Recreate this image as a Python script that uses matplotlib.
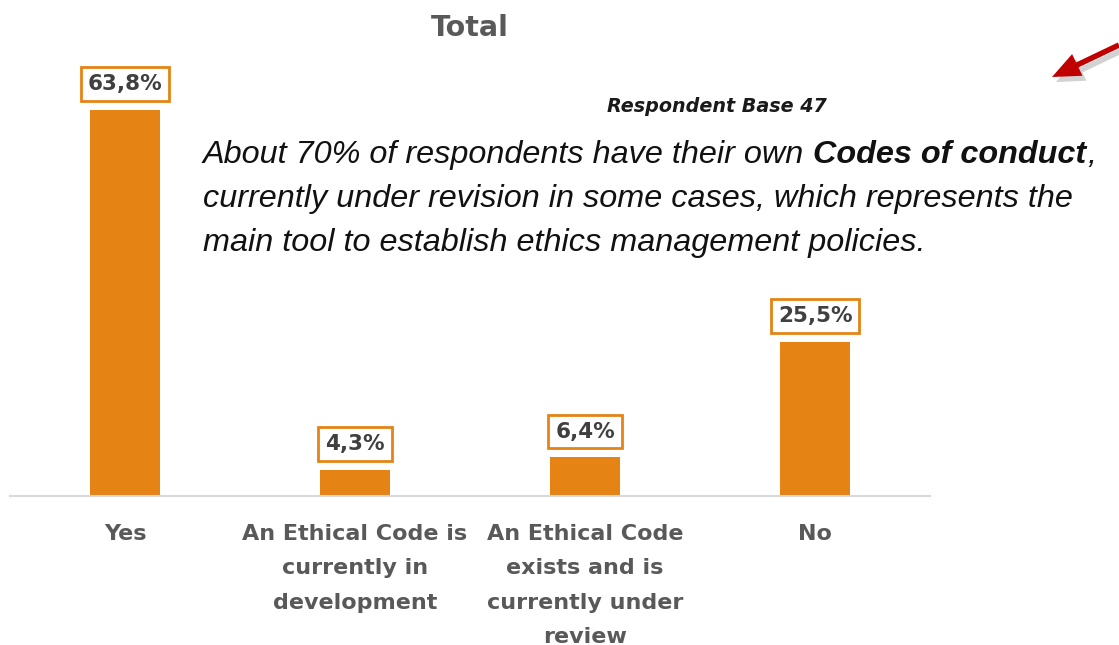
"""Bar chart: share of respondents with an ethical code of conduct."""

import matplotlib

matplotlib.use("Agg")

import matplotlib.pyplot as plt
from matplotlib.patches import FancyArrow
from matplotlib.transforms import IdentityTransform

categories = [
    "Yes",
    "An Ethical Code is\ncurrently in\ndevelopment",
    "An Ethical Code\nexists and is\ncurrently under\nreview",
    "No",
]
shares = [63.8, 4.3, 6.4, 25.5]

BAR_COLOR = "#e58315"
LABEL_GREY = "#595959"
VALUE_GREY = "#404040"
NOTE_COLOR = "#111111"
LABEL_FONT = "DejaVu Sans"
NOTE_FONT = "Liberation Sans"


def fmt_pct(value: float) -> str:
    return f"{value:.1f}%".replace(".", ",")


fig = plt.figure(figsize=(11.19, 6.45), dpi=100)
ax = fig.add_axes([10 / 1119, 1 - 496 / 645, 920 / 1119, 423.5 / 645])

x = range(len(categories))
ax.bar(x, shares, width=0.305, color=BAR_COLOR, zorder=2)
ax.set_xlim(-0.5, 3.5)
ax.set_ylim(0, 70)

for xi, value in zip(x, shares):
    ax.annotate(
        fmt_pct(value),
        xy=(xi, value),
        xytext=(0, 18.5),
        textcoords="offset points",
        ha="center",
        va="center",
        fontsize=15.5,
        fontweight="bold",
        color=VALUE_GREY,
        family=LABEL_FONT,
        bbox=dict(boxstyle="square,pad=0.32", fc="white", ec=BAR_COLOR, lw=2),
    )

for spine in ("top", "right", "left"):
    ax.spines[spine].set_visible(False)
ax.spines["bottom"].set_color("#d9d9d9")
ax.spines["bottom"].set_linewidth(1.5)
ax.set_yticks([])
ax.set_xticks(list(x))
ax.set_xticklabels(
    categories,
    fontsize=16,
    fontweight="bold",
    color=LABEL_GREY,
    family=LABEL_FONT,
    linespacing=1.9,
    va="top",
)
ax.tick_params(axis="x", length=0, pad=20)

fig.text(470 / 1119, 1 - 28 / 645, "Total", ha="center", va="center",
         fontsize=20.5, fontweight="bold", color=LABEL_GREY, family=LABEL_FONT)
fig.text(607 / 1119, 1 - 106 / 645, "Respondent Base 47", ha="left", va="center",
         fontsize=13.8, fontweight="bold", style="italic", color="#1a1a1a",
         family=LABEL_FONT)

# commentary block; the bold phrase is chained to the end of the first run
note_style = dict(fontsize=23.3, style="italic", color=NOTE_COLOR, family=NOTE_FONT)
first = fig.text(203 / 1119, 1 - 155 / 645, "About 70% of respondents have their own ",
                 ha="left", va="center", **note_style)
fig.canvas.draw()
renderer = fig.canvas.get_renderer()
bb = first.get_window_extent(renderer)
bold = fig.text(bb.x1, bb.y0, "Codes of conduct", ha="left", va="bottom",
                fontweight="bold", transform=IdentityTransform(), **note_style)
bb2 = bold.get_window_extent(renderer)
fig.text(bb2.x1 + 1, bb.y0, ",", ha="left", va="bottom",
         transform=IdentityTransform(), **note_style)

for i, line in enumerate([
    "currently under revision in some cases, which represents the",
    "main tool to establish ethics management policies.",
], start=1):
    fig.text(203 / 1119, 1 - (155 + 44 * i) / 645, line, ha="left", va="center",
             **note_style)

# red pointer arrow in the top-right corner, with a soft shadow (inches)
for dx, dy, col, alpha in [(0.04, -0.05, "#7f7f7f", 0.35), (0, 0, "#c00000", 1.0)]:
    arrow = FancyArrow(
        11.19 + dx, 6.00 + dy, -0.67, -0.32,
        width=0.055, head_width=0.24, head_length=0.28,
        length_includes_head=True, color=col, alpha=alpha, lw=0,
        transform=fig.dpi_scale_trans, clip_on=False,
    )
    fig.add_artist(arrow)

fig.savefig("out.png", dpi=100)
